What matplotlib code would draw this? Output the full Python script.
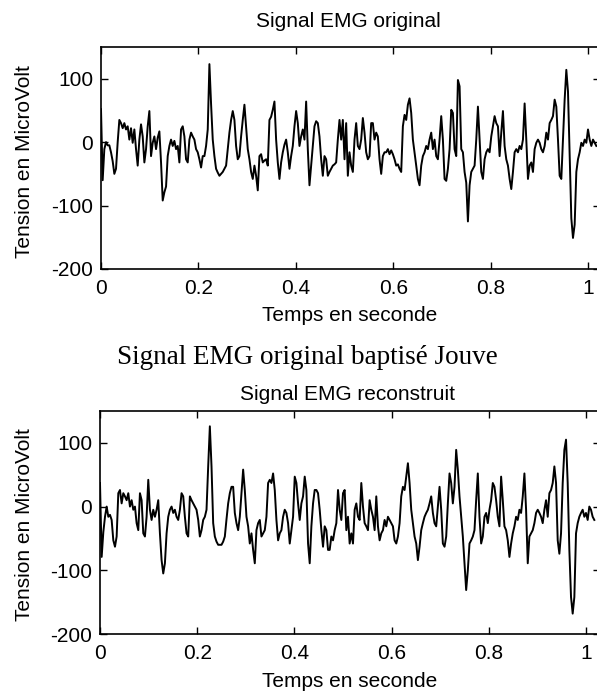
import numpy as np
import matplotlib
matplotlib.use("Agg")
from matplotlib import pyplot as plt

plt.rcParams['font.family'] = ['Liberation Sans', 'DejaVu Sans']

fs = 292  # echantillons par seconde (lecture de la figure)

# signal EMG original (microvolts)
emg_orig = [
    52, -60, -11, 0, -5, -5, -16, -30, -50, -42, 0, 35, 30, 22, 30, 20, 25, 4, 22, -1,
    20, -11, -37, 4, 28, 9, -32, -11, 25, 49, -22, -1, 9, -11, 7, 17, -32, -92, -79, -70,
    -22, -6, 4, -6, 2, -11, -6, -32, 20, 25, 9, -27, -32, 4, 15, 9, 4, -11, -16, -27,
    -40, -22, -22, -6, 20,
    123, 60, 4, -22, -42, -48, -53, -50, -47, -42, -37, -11, 15, 35, 49, 35, -6, -27, -22, 9,
    35, 59, 25, -11, -27, -47, -58, -37, -53, -76, -22, -19, -32, -29, -27, -37, 35, 40, 51, 64,
    4, -32, -58, -32, -16, -4, 4, -16, -42, -22, -6, 25, 49, 30, -6, 9, 20, 4, 64, -11,
    -68, -37, -6, 25, 33, 30, 9, -27, -53, -22, -27, -53,
    -47, -42, -37, -35, -32, 4, 35, 4, 35, -27, 30, -53, -16, -37, -47, 4, 30, -6, -11, 4,
    38, 15, -16, -27, -22, 30, 30, 4, 15, 9, -27, -50, -22, -16, -16, -11, -19, -13, -19, -27,
    -37, -35, -42, -47, 25, 43, 35, 59, 69, 46, 4, -16, -37, -58, -68, -37, -22, -16, -6, -11,
    4, 15, -11, 4, -22, -27, 4, 41, 4, -58, -61, -42, -11, 51, 46, -11, -22, 98,
    88, -11, -16, -47, -64, -125, -68, -47, -42, -37, 4, 56, 4, -47, -58, -27, -16, -11, -16, 9,
    25, 41, 30, 25, -22, 15, 49, -6, -27, -37, -58, -74, -47, -16, -11, -16, -6, -11, 4, 61,
    4, -58, -37, -32, -47, -11, -1, 4, -1, -11, -16, -6, 15, 4, 30, 35, 41, 67, 56, 4,
    -53, -58, 4, 67, 114, 80, -22, -120, -151, -130, -47, -27, -16, -1, -6, 4, -1, 20, 4, -6,
    4, -1, -6,
]

# signal EMG reconstruit (microvolts)
emg_rec = [
    37, -79, -40, -16, 0, -16, -13, -21, -53, -63, -47, 21, 26, 5, 21, 16, 10, 21, 0, 10,
    -5, 0, -26, -37, 21, 10, -42, -47, -16, 42, -5, -21, -5, -16, -5, 10, -42, -84, -105, -89,
    -42, -16, -5, 0, -10, -5, -16, -21, -5, 21, 16, -16, -42, -47, 16, 10, 5, 0, -5, -21,
    -47, -37, -21, -16, -5, 63,
    126, 63, -26, -47, -55, -60, -60, -60, -55, -47, -20, 5, 21, 31, 31, -10, -26, -37, -16, 21,
    58, 26, -16, -31, -58, -42, -68, -89, -37, -26, -21, -47, -42, -37, -16, 37, 42, 37, 52, 26,
    -21, -53, -42, -37, -16, -5, -10, -26, -58, -37, -16, 47, 37, 5, -21, 5, 16, 47, 26, -58,
    -89, -31, 5, 26, 26, 21, -5, -37, -63, -31, -37, -68,
    -68, -47, -53, -37, -26, 26, -5, -21, 21, 26, -37, -16, -58, -42, -58, -5, 5, -16, -21, 37,
    0, -26, -31, -37, 10, -5, -16, -37, 16, -31, -53, -42, -37, -21, -31, -16, -21, -26, -31, -53,
    -58, -47, -26, 16, 31, 26, 47, 68, 37, -5, -26, -47, -58, -84, -63, -37, -26, -16, -10, -5,
    5, 16, -10, -26, -31, 0, 31, -5, -58, -63, -47, 5, 52, 37, 5, 31, 89, 58,
    16, -16, -47, -89, -131, -100, -58, -53, -47, -37, 10, 52, -16, -58, -47, -16, -10, -26, -5, 10,
    37, 31, 10, -16, -31, 47, 10, -31, -37, -53, -79, -58, -42, -31, -16, -21, -5, -10, 16, 52,
    -5, -89, -47, -42, -37, -26, -10, -5, -10, -16, -26, -5, 10, -16, 21, 26, 37, 63, 37, -53,
    -74, -42, 37, 89, 105, 37, -68, -142, -168, -142, -42, -26, -16, -10, -5, -16, -10, -21, 0, -5,
    -16, -21,
]

xticks = [0, 0.2, 0.4, 0.6, 0.8, 1]
xticklabels = ['0', '0.2', '0.4', '0.6', '0.8', '1']
yticks = [-200, -100, 0, 100]
yticklabels = ['-200', '-100', '0', '100']

W, H = 597, 693
fig = plt.figure(figsize=(W / 100, H / 100), dpi=100)
fs_txt = 15


def px_axes(l, t, r, b):
    return fig.add_axes([l / W, 1 - b / H, (r - l) / W, (b - t) / H])


def ftext(x, y, s, **kw):
    kw.setdefault('va', 'baseline')
    fig.text(x / W, 1 - y / H, s, ha='center', **kw)


def draw(ax, sig, x_right):
    t = np.arange(len(sig)) / fs
    ax.plot(t, sig, color='k', lw=1.4)
    ax.set_xlim(0, x_right)
    ax.set_ylim(-200, 150)
    ax.set_xticks(xticks)
    ax.set_xticklabels(xticklabels)
    ax.set_yticks(yticks)
    ax.set_yticklabels(yticklabels)
    ax.tick_params(direction='in', top=True, right=True, length=5, width=1,
                   labelsize=fs_txt)
    ax.tick_params(axis='x', pad=7.5)
    ax.tick_params(axis='y', pad=5.5)
    for s in ax.spines.values():
        s.set_linewidth(1.2)


ax1 = px_axes(101, 47, 600, 269)
draw(ax1, emg_orig, (600 - 101) / 487)
ax2 = px_axes(100, 411, 600, 634)
draw(ax2, emg_rec, (600 - 100) / 486)

ftext(348, 27, 'Signal EMG original', fontsize=fs_txt)
ftext(350, 321, 'Temps en seconde', fontsize=fs_txt)
ftext(25, 162, 'Tension en MicroVolt', fontsize=fs_txt, rotation=90, va='center')

ftext(307, 364, 'Signal EMG original baptisé Jouve', fontsize=19.5,
      family=['Liberation Serif', 'DejaVu Serif'])

ftext(348, 400, 'Signal EMG reconstruit', fontsize=fs_txt)
ftext(350, 687, 'Temps en seconde', fontsize=fs_txt)
ftext(25, 525, 'Tension en MicroVolt', fontsize=fs_txt, rotation=90, va='center')

fig.savefig('out.png', dpi=100, facecolor='white')
